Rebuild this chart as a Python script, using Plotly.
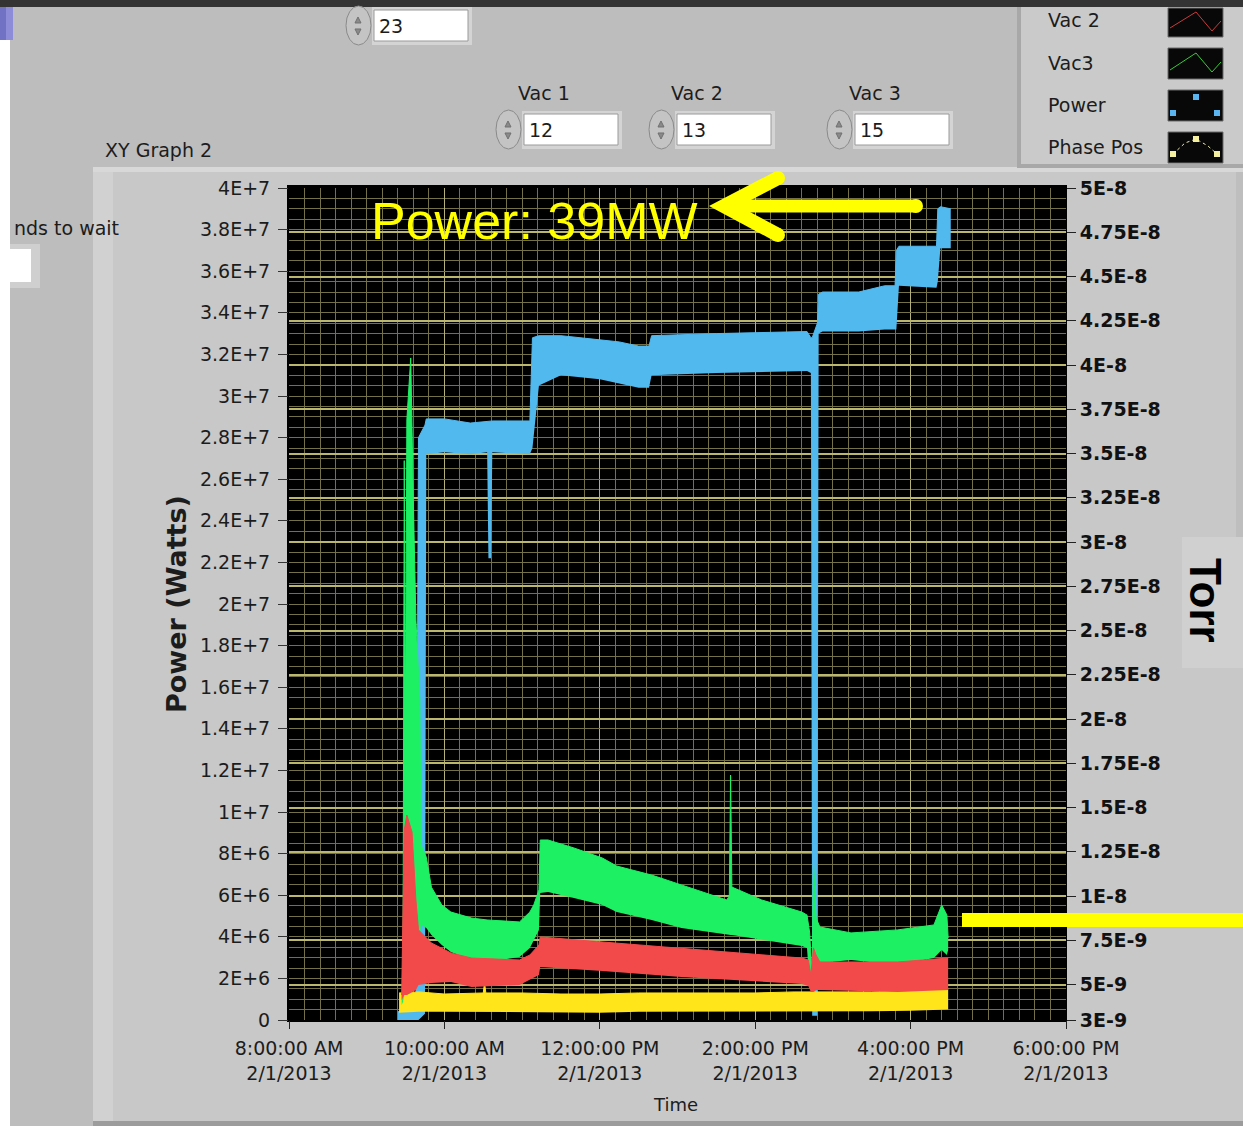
import plotly.graph_objects as go

DAY = "2013-02-01 "

# ---------------- data ----------------
# Power (Watts) - band between lower and upper envelope
power_t = ["09:24", "09:38", "09:40", "09:45", "09:46", "10:00", "10:20", "10:33", "10:34", "10:36", "10:37",
           "11:06", "11:08", "11:13", "11:30", "12:00", "12:15", "12:30", "12:38", "12:40", "13:30",
           "14:40", "14:43", "14:44", "14:48", "14:49", "14:52", "15:20", "15:40", "15:48", "15:49",
           "15:51", "16:20", "16:21", "16:23", "16:31"]
power_hi = [0.4e6, 0.5e6, 2.80e7, 2.86e7, 2.89e7, 2.89e7, 2.87e7, 2.88e7, 2.88e7, 2.88e7, 2.88e7,
            2.88e7, 3.28e7, 3.29e7, 3.29e7, 3.27e7, 3.26e7, 3.24e7, 3.24e7, 3.29e7, 3.30e7,
            3.31e7, 3.28e7, 3.28e7, 3.35e7, 3.49e7, 3.50e7, 3.50e7, 3.53e7, 3.53e7, 3.70e7,
            3.72e7, 3.72e7, 3.90e7, 3.91e7, 3.90e7]
power_lo = [0, 0, 0, 0.3e6, 2.72e7, 2.73e7, 2.72e7, 2.73e7, 2.22e7, 2.22e7, 2.73e7,
            2.72e7, 2.75e7, 3.05e7, 3.10e7, 3.08e7, 3.06e7, 3.04e7, 3.04e7, 3.10e7, 3.11e7,
            3.12e7, 3.11e7, 0.2e6, 0.2e6, 3.30e7, 3.31e7, 3.31e7, 3.32e7, 3.32e7, 3.32e7,
            3.53e7, 3.52e7, 3.55e7, 3.71e7, 3.71e7]

# Vac3 (Torr)
vac3_t = ["09:27", "09:28", "09:29", "09:30", "09:31", "09:34", "09:36", "09:38", "09:41", "09:42",
          "09:46", "09:50", "09:58", "10:05", "10:21", "10:33", "10:58", "11:06", "11:09", "11:13",
          "11:14", "11:20", "11:40", "12:02", "12:13", "12:40", "13:03", "13:38", "13:40", "13:41",
          "13:42", "14:05", "14:36", "14:40", "14:42", "14:44", "14:45", "14:47", "14:50", "15:14",
          "15:50", "16:18", "16:24", "16:28", "16:29"]
vac3_hi = [4.41e-9, 4.70e-9, 3.46e-8, 2.00e-8, 3.69e-8, 4.04e-8, 3.24e-8, 2.56e-8, 2.11e-8, 1.29e-8,
           1.22e-8, 1.05e-8, 9.50e-9, 9.10e-9, 8.76e-9, 8.65e-9, 8.54e-9, 9.10e-9, 9.50e-9, 1.035e-8,
           1.317e-8, 1.317e-8, 1.272e-8, 1.215e-8, 1.170e-8, 1.119e-8, 1.063e-8, 9.78e-9, 1.001e-8, 1.684e-8,
           1.051e-8, 9.78e-9, 9.10e-9, 8.93e-9, 7.97e-9, 5.54e-9, 1.193e-8, 8.76e-9, 8.25e-9, 7.92e-9,
           8.09e-9, 8.37e-9, 9.50e-9, 8.93e-9, 7.63e-9]
vac3_lo = [3.85e-9, 4.02e-9, 4.41e-9, 4.41e-9, 4.41e-9, 4.53e-9, 4.70e-9, 6.11e-9, 7.52e-9, 8.37e-9,
           8.20e-9, 7.80e-9, 7.24e-9, 6.84e-9, 6.39e-9, 6.28e-9, 6.56e-9, 7.07e-9, 7.52e-9, 8.09e-9,
           1.018e-8, 1.023e-8, 9.89e-9, 9.50e-9, 9.10e-9, 8.65e-9, 8.20e-9, 7.80e-9, 7.80e-9, 7.80e-9,
           7.80e-9, 7.52e-9, 7.18e-9, 7.07e-9, 4.98e-9, 4.70e-9, 4.70e-9, 5.94e-9, 6.22e-9, 6.39e-9,
           6.11e-9, 6.50e-9, 6.96e-9, 6.67e-9, 6.96e-9]

# Vac 2 (Torr)
vac2_t = ["09:27", "09:29", "09:31", "09:35", "09:38", "09:40", "09:50", "10:05", "10:21", "10:58",
          "11:06", "11:13", "11:14", "12:02", "13:03", "14:36", "14:41", "14:43", "14:45", "14:47",
          "14:50", "15:50", "16:29"]
vac2_hi = [4.41e-9, 1.374e-8, 1.458e-8, 1.362e-8, 9.78e-9, 8.09e-9, 7.35e-9, 6.79e-9, 6.50e-9, 6.39e-9,
           6.67e-9, 7.24e-9, 7.69e-9, 7.41e-9, 7.07e-9, 6.50e-9, 6.39e-9, 5.54e-9, 7.07e-9, 6.67e-9,
           6.28e-9, 6.28e-9, 6.50e-9]
vac2_lo = [4.13e-9, 4.41e-9, 4.41e-9, 4.58e-9, 4.70e-9, 4.98e-9, 5.09e-9, 5.15e-9, 4.86e-9, 4.98e-9,
           5.26e-9, 5.54e-9, 5.99e-9, 5.77e-9, 5.43e-9, 5.03e-9, 4.92e-9, 4.58e-9, 4.58e-9, 4.70e-9,
           4.70e-9, 4.58e-9, 4.70e-9]

# Phase Pos (plotted on the Watts scale)
phase_t = ["09:25", "09:40", "10:00", "10:30", "10:31", "10:32", "11:00", "11:30", "12:00",
           "12:30", "13:00", "13:30", "14:00", "14:30", "15:00", "15:30", "16:00", "16:29"]
phase_hi = [1.30e6, 1.35e6, 1.25e6, 1.30e6, 1.80e6, 1.30e6, 1.30e6, 1.25e6, 1.25e6,
            1.30e6, 1.30e6, 1.30e6, 1.30e6, 1.35e6, 1.35e6, 1.35e6, 1.40e6, 1.50e6]
phase_lo = [0.35e6, 0.40e6, 0.40e6, 0.38e6, 0.38e6, 0.38e6, 0.38e6, 0.35e6, 0.35e6,
            0.40e6, 0.40e6, 0.40e6, 0.40e6, 0.40e6, 0.40e6, 0.42e6, 0.45e6, 0.50e6]

# axes
x_tick_times = ["08:00", "10:00", "12:00", "14:00", "16:00", "18:00"]
x_tick_text = ["8:00:00 AM<br>2/1/2013", "10:00:00 AM<br>2/1/2013", "12:00:00 PM<br>2/1/2013",
               "2:00:00 PM<br>2/1/2013", "4:00:00 PM<br>2/1/2013", "6:00:00 PM<br>2/1/2013"]
left_vals = [0, 2e6, 4e6, 6e6, 8e6, 1e7, 1.2e7, 1.4e7, 1.6e7, 1.8e7, 2e7,
             2.2e7, 2.4e7, 2.6e7, 2.8e7, 3e7, 3.2e7, 3.4e7, 3.6e7, 3.8e7, 4e7]
left_text = ["0", "2E+6", "4E+6", "6E+6", "8E+6", "1E+7", "1.2E+7", "1.4E+7", "1.6E+7", "1.8E+7", "2E+7",
             "2.2E+7", "2.4E+7", "2.6E+7", "2.8E+7", "3E+7", "3.2E+7", "3.4E+7", "3.6E+7", "3.8E+7", "4E+7"]
right_vals = [5e-8, 4.75e-8, 4.5e-8, 4.25e-8, 4e-8, 3.75e-8, 3.5e-8, 3.25e-8, 3e-8, 2.75e-8,
              2.5e-8, 2.25e-8, 2e-8, 1.75e-8, 1.5e-8, 1.25e-8, 1e-8, 7.5e-9, 5e-9, 3e-9]
right_text = ["5E-8", "4.75E-8", "4.5E-8", "4.25E-8", "4E-8", "3.75E-8", "3.5E-8", "3.25E-8", "3E-8", "2.75E-8",
              "2.5E-8", "2.25E-8", "2E-8", "1.75E-8", "1.5E-8", "1.25E-8", "1E-8", "7.5E-9", "5E-9", "3E-9"]

# ---------------- geometry helpers (pixels -> paper) ----------------
L, R, T, B = 289, 1066, 188, 1020
W, H = 1243, 1126


def px(x):
    return (x - L) / (R - L)


def py(y):
    return (B - y) / (B - T)


def rect(x0, y0, x1, y1, fill, line=None, lw=0, layer="below"):
    return dict(type="rect", xref="paper", yref="paper", x0=px(x0), x1=px(x1), y0=py(y1), y1=py(y0),
                fillcolor=fill, line=dict(width=lw, color=line or fill), layer=layer)


def ellipse(x0, y0, x1, y1, fill, line=None, lw=0, layer="below"):
    d = rect(x0, y0, x1, y1, fill, line, lw, layer)
    d["type"] = "circle"
    return d


def path(pts, color, lw, close=False, fill=None, layer="above", dash=None):
    s = "M " + " L ".join(f"{px(a):.5f},{py(b):.5f}" for a, b in pts)
    if close:
        s += " Z"
    ln = dict(color=color, width=lw)
    if dash:
        ln["dash"] = dash
    return dict(type="path", xref="paper", yref="paper", path=s, line=ln,
                fillcolor=fill if fill else "rgba(0,0,0,0)", layer=layer)


def text(x, y, s, size=19, color="#1c1c1c", xa="center", ya="middle", family="DejaVu Sans",
         weight="normal", angle=0):
    return dict(x=px(x), y=py(y), xref="paper", yref="paper", text=s, showarrow=False,
                xanchor=xa, yanchor=ya, textangle=angle,
                font=dict(family=family, size=size, color=color, weight=weight))


# ---------------- traces ----------------
def ts(lst):
    return [DAY + t for t in lst]


fig = go.Figure()


def band(t, lo, hi, color, name, axis):
    fig.add_trace(go.Scatter(x=ts(t), y=lo, mode="lines", line=dict(width=0, color=color),
                             yaxis=axis, hoverinfo="skip", showlegend=False))
    fig.add_trace(go.Scatter(x=ts(t), y=hi, mode="lines", line=dict(width=1, color=color),
                             fill="tonexty", fillcolor=color, yaxis=axis, name=name, showlegend=False))


C_POWER = "#52b9ef"
C_VAC3 = "#1ef064"
C_VAC2 = "#f24a4a"
C_PHASE = "#ffe51a"

band(power_t, power_lo, power_hi, C_POWER, "Power", "y")
band(phase_t, phase_lo, phase_hi, C_PHASE, "Phase Pos", "y")
band(vac3_t, vac3_lo, vac3_hi, C_VAC3, "Vac3", "y2")
band(vac2_t, vac2_lo, vac2_hi, C_VAC2, "Vac 2", "y2")

# ---------------- decorations ----------------
shapes = []
# graph panel
shapes.append(rect(93, 167, 1243, 1126, "#c8c8c8"))
shapes.append(rect(93, 167, 113, 1122, "#d1d1d1"))
shapes.append(rect(93, 167, 1243, 172, "#d8d8d8"))
shapes.append(rect(93, 1121, 1243, 1126, "#9c9c9c"))
shapes.append(rect(1236, 172, 1243, 537, "#bebebe"))
shapes.append(rect(1182, 537, 1243, 668, "#d0d0d0"))
# plot area background
shapes.append(rect(287, 185, 1067, 1022, "#000000"))
# top bar, left strip, blue corner
shapes.append(rect(0, 0, W, 7, "#343434"))
shapes.append(rect(0, 7, 10, H, "#ffffff"))
shapes.append(rect(0, 7, 13, 40, "#8c8cd8"))
shapes.append(rect(0, 7, 6, 40, "#7272c4"))
# left control ("...nds to wait")
shapes.append(rect(10, 244, 40, 288, "#cfcfcf"))
shapes.append(rect(10, 249, 31, 282, "#ffffff"))
# legend panel
shapes.append(rect(1017, 7, W, 168, "#a8a8a8"))
shapes.append(rect(1021, 7, W, 164, "#cacaca"))
legend_boxes = [(8, 37), (48, 79), (90, 121), (132, 163)]
for y0, y1 in legend_boxes:
    shapes.append(rect(1168, y0, 1223, y1, "#080808", "#6a6a6a", 1))
shapes.append(path([(1170, 28), (1196, 12), (1212, 31), (1221, 21)], "#c83c3c", 1))
shapes.append(path([(1170, 70), (1196, 53), (1212, 72), (1221, 62)], "#3cc83c", 1))
for cx, cy in [(1196, 97), (1173, 113), (1217, 113)]:
    shapes.append(rect(cx - 3, cy - 3, cx + 3, cy + 3, "#5ab4f0", layer="above"))
shapes.append(path([(1173, 154), (1185, 143), (1196, 139), (1208, 146), (1217, 154)], "#e8e8b0", 1, dash="dot"))
for cx, cy in [(1173, 154), (1196, 139), (1217, 154)]:
    shapes.append(rect(cx - 3, cy - 3, cx + 3, cy + 3, "#f4f0a0", layer="above"))

# numeric controls
controls = [(345, 8, "23"), (495, 112, "12"), (648, 112, "13"), (826, 112, "15")]
annotations = []
for x0, y0, val in controls:
    shapes.append(ellipse(x0 + 1, y0 - 2, x0 + 26, y0 + 37, "#c4c4c4", "#8a8a8a", 1))
    shapes.append(path([(x0 + 10, y0 + 15), (x0 + 13, y0 + 9), (x0 + 16, y0 + 15)], "#707070", 1,
                       close=True, fill="#8a8a8a"))
    shapes.append(path([(x0 + 10, y0 + 21), (x0 + 13, y0 + 27), (x0 + 16, y0 + 21)], "#707070", 1,
                       close=True, fill="#8a8a8a"))
    shapes.append(rect(x0 + 27, y0 - 1, x0 + 127, y0 + 37, "#d4d4d4"))
    shapes.append(rect(x0 + 29, y0 + 2, x0 + 123, y0 + 33, "#ffffff", "#9a9a9a", 1))
    annotations.append(text(x0 + 32, y0 + 18, val, size=19, xa="left"))

for x, lab in [(544, "Vac 1"), (697, "Vac 2"), (875, "Vac 3")]:
    annotations.append(text(x, 93, lab, size=19))

# yellow annotation arrow and bar
YEL = "#ffff00"
shapes.append(dict(type="line", xref="paper", yref="paper", x0=px(728), y0=py(206), x1=px(916), y1=py(206),
                   line=dict(color=YEL, width=13), layer="above"))
shapes.append(path([(778, 178), (724, 206), (778, 235)], YEL, 14))
for cx, cy in [(778, 178), (778, 235), (916, 206)]:
    shapes.append(ellipse(cx - 7, cy - 7, cx + 7, cy + 7, YEL, layer="above"))
shapes.append(rect(962, 913, W, 927, YEL, layer="above"))

# texts
annotations += [
    text(369, 221, "Power: 39MW", size=52, color=YEL, xa="left", family="Liberation Sans"),
    text(176, 604, "Power (Watts)", size=27, weight="bold", angle=-90),
    text(1206, 600, "Torr", size=44, weight="bold", angle=90, family="Liberation Sans", color="#000000"),
    text(675, 1104, "Time", size=18),
    text(103, 150, "XY Graph 2", size=19, xa="left"),
    text(12, 228, "nds to wait", size=19, xa="left"),
    text(1046, 20, "Vac 2", size=19, xa="left"),
    text(1046, 63, "Vac3", size=19, xa="left"),
    text(1046, 105, "Power", size=19, xa="left"),
    text(1046, 147, "Phase Pos", size=19, xa="left"),
]

MINOR = "#74714a"
fig.update_layout(
    width=W, height=H,
    margin=dict(l=L, r=W - R, t=T, b=H - B, pad=0),
    paper_bgcolor="#bdbdbd", plot_bgcolor="#000000",
    showlegend=False,
    shapes=shapes, annotations=annotations,
    xaxis=dict(type="date", range=[DAY + "08:00", DAY + "18:00"],
               tickmode="array", tickvals=ts(x_tick_times), ticktext=x_tick_text,
               ticks="outside", ticklen=8, tickwidth=1, tickcolor="#222222", ticklabelstandoff=3,
               tickfont=dict(family="DejaVu Sans", size=19, color="#1c1c1c"),
               showgrid=True, gridcolor="#b3b07a", gridwidth=1,
               minor=dict(dtick=12 * 60 * 1000, tick0=DAY + "08:00", showgrid=True,
                          gridcolor=MINOR, gridwidth=1),
               zeroline=False, showline=False, fixedrange=True),
    yaxis=dict(range=[0, 4e7], tickmode="array", tickvals=left_vals, ticktext=left_text,
               ticks="outside", ticklen=10, tickwidth=1, tickcolor="#333333", ticklabelstandoff=4,
               tickfont=dict(family="DejaVu Sans", size=19, color="#1c1c1c"),
               showgrid=True, gridcolor=MINOR, gridwidth=1,
               minor=dict(dtick=5e5, tick0=0, showgrid=True, gridcolor=MINOR, gridwidth=1),
               zeroline=False, showline=False, fixedrange=True),
    yaxis2=dict(overlaying="y", side="right", range=[3e-9, 5e-8],
                tickmode="array", tickvals=right_vals, ticktext=right_text,
                ticks="outside", ticklen=9, tickwidth=1, tickcolor="#222222",
                tickfont=dict(family="DejaVu Sans", size=19, color="#111111", weight="bold"),
                showgrid=True, gridcolor="#bbb76c", gridwidth=2,
                zeroline=False, showline=False, fixedrange=True),
)

fig.write_html("out.html", config={"displayModeBar": False})
